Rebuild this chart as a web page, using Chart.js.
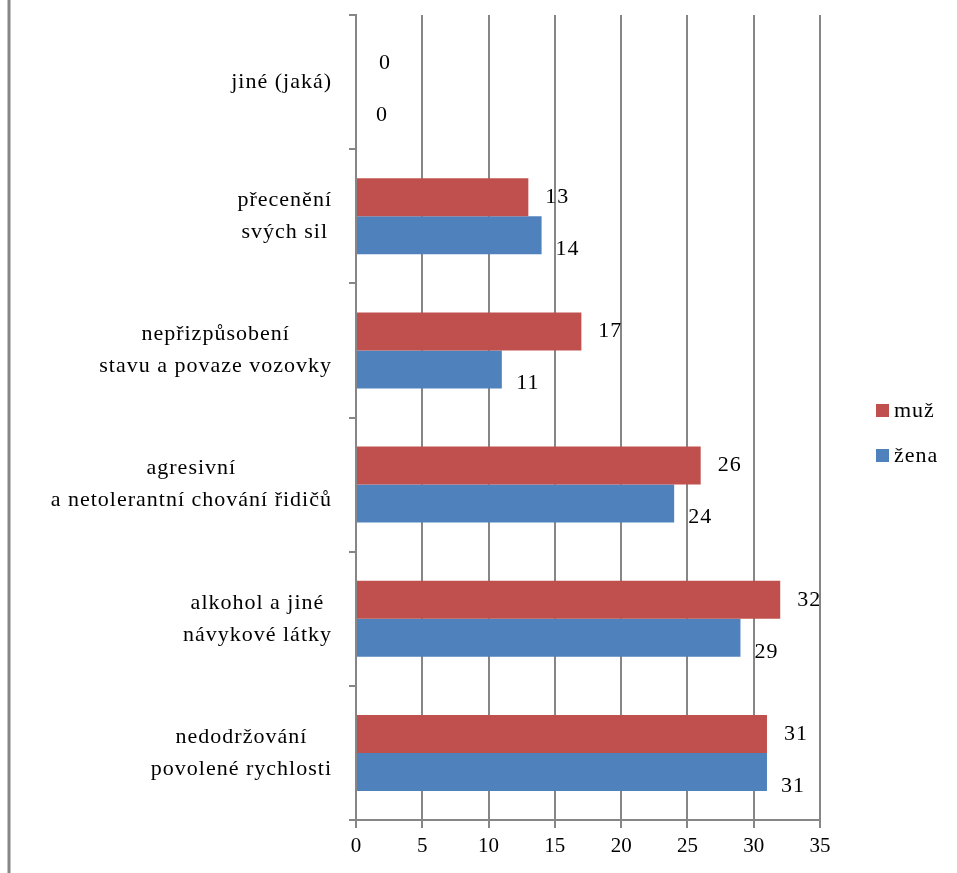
<!DOCTYPE html>
<html>
<head>
<meta charset="utf-8">
<script src="https://cdn.jsdelivr.net/npm/chart.js@4/dist/chart.umd.min.js"></script>
<style>
  body { margin: 0; background: #fff; }
</style>
</head>
<body>
<canvas id="chart" width="957" height="873"></canvas>
<script>
const categories = [
  ['jiné (jaká)'],
  ['přecenění', 'svých sil'],
  ['nepřizpůsobení', 'stavu a povaze vozovky'],
  ['agresivní', 'a netolerantní chování řidičů'],
  ['alkohol a jiné', 'návykové látky'],
  ['nedodržování', 'povolené rychlosti']
];
const seriesNames = ['muž', 'žena'];
const muz = [0, 13, 17, 26, 32, 31];
const zena = [0, 14, 11, 24, 29, 31];
const xTicks = [0, 5, 10, 15, 20, 25, 30, 35];

const RED = '#C0504D';
const BLUE = '#4F81BD';
const GRAY = '#868686';
const FONT = '"Liberation Serif", "Times New Roman", serif';

// category labels, lines centered inside a right-aligned block
const catLabels = {
  id: 'catLabels',
  afterDraw(chart) {
    const ctx = chart.ctx;
    const y = chart.scales.y;
    ctx.save();
    ctx.font = '22px ' + FONT;
    ctx.letterSpacing = '1px';
    ctx.fillStyle = '#000';
    ctx.textAlign = 'center';
    ctx.textBaseline = 'middle';
    categories.forEach((lines, i) => {
      const cy = y.getPixelForValue(i);
      const w = Math.max(...lines.map(l => ctx.measureText(l).width));
      const cx = 332 - w / 2;
      lines.forEach((l, j) => {
        ctx.fillText(l, cx, cy + (j - (lines.length - 1) / 2) * 32);
      });
    });
    ctx.restore();
  }
};

// value labels next to the bars
const valueLabels = {
  id: 'valueLabels',
  afterDatasetsDraw(chart) {
    const ctx = chart.ctx;
    ctx.save();
    ctx.font = '22px ' + FONT;
    ctx.letterSpacing = '1px';
    ctx.fillStyle = '#000';
    ctx.textAlign = 'center';
    ctx.textBaseline = 'middle';
    chart.data.datasets.forEach((ds, di) => {
      const meta = chart.getDatasetMeta(di);
      meta.data.forEach((bar, i) => {
        const dx = di === 0 ? 29 : 26;
        const dy = di === 0 ? 0 : 14;
        ctx.fillText(String(ds.data[i]), bar.x + dx, bar.y + dy);
      });
    });
    ctx.restore();
  }
};

// legend on the right + left frame line
const extras = {
  id: 'extras',
  afterDraw(chart) {
    const ctx = chart.ctx;
    ctx.save();
    ctx.strokeStyle = GRAY;
    ctx.lineWidth = 3;
    ctx.beginPath();
    ctx.moveTo(9, 0);
    ctx.lineTo(9, 873);
    ctx.stroke();

    ctx.font = '22px ' + FONT;
    ctx.letterSpacing = '1px';
    ctx.textBaseline = 'middle';
    ctx.textAlign = 'left';
    [[RED, 411], [BLUE, 456]].forEach(([c, yy], i) => {
      ctx.fillStyle = c;
      ctx.fillRect(876, yy - 7, 13, 13);
      ctx.fillStyle = '#000';
      ctx.fillText(seriesNames[i], 894, yy);
    });
    ctx.restore();
  }
};

new Chart(document.getElementById('chart'), {
  type: 'bar',
  data: {
    labels: categories.map(c => c.join(' ')),
    datasets: [
      { label: seriesNames[0], data: muz, backgroundColor: RED },
      { label: seriesNames[1], data: zena, backgroundColor: BLUE }
    ]
  },
  options: {
    indexAxis: 'y',
    responsive: false,
    animation: false,
    categoryPercentage: 0.567,
    barPercentage: 1,
    layout: { padding: { top: 15, right: 137, left: 0, bottom: 0 } },
    plugins: {
      legend: { display: false },
      tooltip: { enabled: false }
    },
    scales: {
      x: {
        min: 0,
        max: 35,
        afterBuildTicks: s => { s.ticks = xTicks.map(v => ({ value: v })); },
        afterFit: s => { s.height = 53; },
        ticks: { font: { family: FONT, size: 21 }, color: '#000', padding: 6 },
        grid: { color: GRAY, lineWidth: 2, tickLength: 8 },
        border: { color: GRAY, width: 2 }
      },
      y: {
        offset: true,
        afterFit: s => { s.width = 356; },
        ticks: { display: false },
        grid: { offset: true, drawOnChartArea: false, color: GRAY, lineWidth: 2, tickLength: 7 },
        border: { color: GRAY, width: 2 }
      }
    }
  },
  plugins: [catLabels, valueLabels, extras]
});
</script>
</body>
</html>
